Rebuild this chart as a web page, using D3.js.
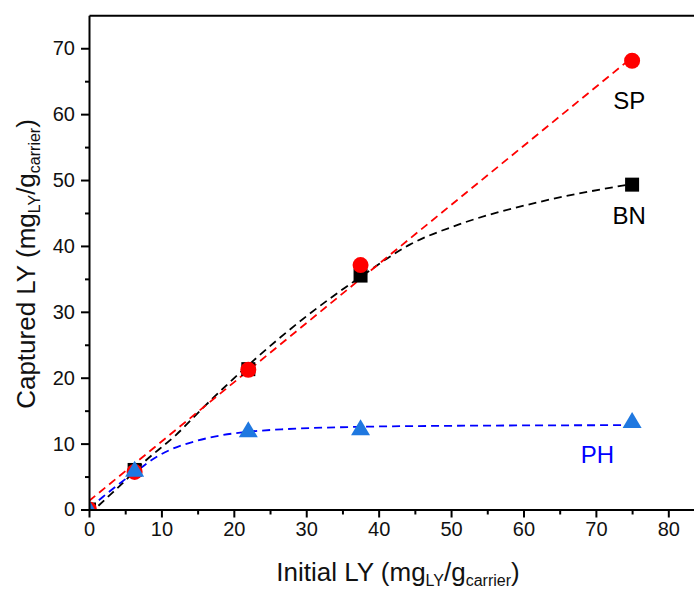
<!DOCTYPE html>
<html>
<head>
<meta charset="utf-8">
<script src="https://cdn.jsdelivr.net/npm/d3@7"></script>
<style>
  html, body { margin: 0; padding: 0; background: #fff; }
  svg { display: block; }
  text { font-family: "Liberation Sans", Arial, Helvetica, sans-serif; }
</style>
</head>
<body>
<div id="chart"></div>
<script>
// ---------- data ----------
const initialLY = [0, 6.3, 22, 37.5, 75];
const spCaptured = [0, 5.7, 21.2, 37.1, 68.1];
const bnCaptured = [0, 6.0, 21.3, 35.5, 49.3];
const phCaptured = [0.2, 6.1, 12.1, 12.4, 13.5];

// fitted (dashed) curves
const spFitX = [0, 37.5, 75];
const spFitY = [1.3, 35.0, 68.6];
const bnFitX = [0, 2.1, 4.65, 7.4, 12, 15.9, 22, 30, 37.5, 44.3, 51.2, 62.3, 75];
const bnFitY = [-0.8, 1.4, 4.0, 7.0, 11.3, 15.6, 21.9, 29.3, 35.3, 40.2, 43.3, 46.7, 49.4];
const phFitX = [0, 1.9, 4.65, 6.3, 9.2, 11.1, 14.8, 18.5, 22, 27.2, 37.5, 50, 75];
const phFitY = [0.1, 1.9, 4.3, 5.6, 7.9, 9.0, 10.4, 11.3, 11.8, 12.2, 12.55, 12.7, 12.8];

const xMajorTicks = [0, 10, 20, 30, 40, 50, 60, 70, 80];
const xMinorTicks = [5, 15, 25, 35, 45, 55, 65, 75];
const yMajorTicks = [0, 10, 20, 30, 40, 50, 60, 70];
const yMinorTicks = [5, 15, 25, 35, 45, 55, 65];

const seriesNames = ["SP", "BN", "PH"];

// ---------- layout ----------
const W = 694, H = 589;
const svg = d3.select("#chart").append("svg").attr("width", W).attr("height", H);

const x = d3.scaleLinear().domain([0, 85]).range([89, 89 + 85 * 7.2413]);
const y = d3.scaleLinear().domain([0, 75]).range([509.5, 15.3]);

const font = '"Liberation Sans", Arial, Helvetica, sans-serif';

// clip for plot area
svg.append("defs").append("clipPath").attr("id", "plotclip")
  .append("rect").attr("x", x(0)).attr("y", y(75))
  .attr("width", W - x(0)).attr("height", y(0) - y(75));

const plot = svg.append("g").attr("clip-path", "url(#plotclip)");

// ---------- fit lines ----------
function fitLine(xs, ys) {
  const pts = xs.map((v, i) => [v, ys[i]]);
  return d3.line().x(d => x(d[0])).y(d => y(d[1])).curve(d3.curveMonotoneX)(pts);
}
const fits = [
  { xs: bnFitX, ys: bnFitY, color: "#000000" },
  { xs: spFitX, ys: spFitY, color: "#ff0000" },
  { xs: phFitX, ys: phFitY, color: "#0000ff" }
];
fits.forEach(f => {
  plot.append("path").attr("d", fitLine(f.xs, f.ys))
    .attr("fill", "none").attr("stroke", f.color)
    .attr("stroke-width", 1.8).attr("stroke-dasharray", "8,5");
});

// ---------- markers ----------
const bnPts = initialLY.map((v, i) => [v, bnCaptured[i]]);
const spPts = initialLY.map((v, i) => [v, spCaptured[i]]);
const phPts = initialLY.map((v, i) => [v, phCaptured[i]]);

plot.selectAll("rect.bn").data(bnPts).enter().append("rect")
  .attr("class", "bn")
  .attr("x", d => x(d[0]) - 7).attr("y", d => y(d[1]) - 7)
  .attr("width", 14).attr("height", 14).attr("fill", "#000");

plot.selectAll("circle.sp").data(spPts).enter().append("circle")
  .attr("class", "sp")
  .attr("cx", d => x(d[0])).attr("cy", d => y(d[1])).attr("r", 8)
  .attr("fill", "#ff0000");

plot.selectAll("path.ph").data(phPts).enter().append("path")
  .attr("class", "ph")
  .attr("d", d => {
    const cx = x(d[0]), cy = y(d[1]);
    return `M${cx},${cy - 8.5}L${cx + 9.5},${cy + 7.5}L${cx - 9.5},${cy + 7.5}Z`;
  })
  .attr("fill", "#1f78e0");

// ---------- axes ----------
const axisG = svg.append("g");

// bottom major
const xAxisMajor = d3.axisBottom(x).tickValues(xMajorTicks).tickSize(8).tickSizeOuter(0).tickPadding(4);
const gx = axisG.append("g").attr("transform", `translate(0,${y(0)})`).call(xAxisMajor);
gx.select(".domain").attr("stroke", "#000").attr("stroke-width", 2);
gx.selectAll(".tick line").attr("stroke", "#000").attr("stroke-width", 2);
gx.selectAll(".tick text").attr("font-size", 20).attr("font-family", font).attr("fill", "#111");

// bottom minor
const xAxisMinor = d3.axisBottom(x).tickValues(xMinorTicks).tickSize(5).tickFormat("");
const gxm = axisG.append("g").attr("transform", `translate(0,${y(0)})`).call(xAxisMinor);
gxm.select(".domain").remove();
gxm.selectAll(".tick line").attr("stroke", "#000").attr("stroke-width", 2);

// left major
const yAxisMajor = d3.axisLeft(y).tickValues(yMajorTicks).tickSize(8).tickSizeOuter(0).tickPadding(6);
const gy = axisG.append("g").attr("transform", `translate(${x(0)},0)`).call(yAxisMajor);
gy.select(".domain").attr("stroke", "#000").attr("stroke-width", 2);
gy.selectAll(".tick line").attr("stroke", "#000").attr("stroke-width", 2);
gy.selectAll(".tick text").attr("font-size", 20).attr("font-family", font).attr("fill", "#111");

// left minor
const yAxisMinor = d3.axisLeft(y).tickValues(yMinorTicks).tickSize(4).tickFormat("");
const gym = axisG.append("g").attr("transform", `translate(${x(0)},0)`).call(yAxisMinor);
gym.select(".domain").remove();
gym.selectAll(".tick line").attr("stroke", "#000").attr("stroke-width", 2);

// top frame line
const xTop = d3.axisTop(x).tickValues([]).tickSizeOuter(0);
const gt = axisG.append("g").attr("transform", `translate(0,${y(75)})`).call(xTop);
gt.select(".domain").attr("stroke", "#000").attr("stroke-width", 2);

// ---------- axis titles ----------
function titleWithSubs(sel) {
  sel.append("tspan").text("LY (mg");
  sel.append("tspan").attr("font-size", 16).attr("dy", 5).text("LY");
  sel.append("tspan").attr("dy", -5).text("/g");
  sel.append("tspan").attr("font-size", 16).attr("dy", 5).text("carrier");
  sel.append("tspan").attr("dy", -5).text(")");
}

const xt = svg.append("text")
  .attr("x", 398).attr("y", 581)
  .attr("text-anchor", "middle").attr("font-size", 26).attr("fill", "#111");
xt.append("tspan").text("Initial ");
titleWithSubs(xt);

const yt = svg.append("text")
  .attr("transform", `translate(35,264) rotate(-90)`)
  .attr("text-anchor", "middle").attr("font-size", 26).attr("fill", "#111");
yt.append("tspan").text("Captured ");
titleWithSubs(yt);

// ---------- series labels ----------
const labelPos = [
  { name: seriesNames[0], xv: 74.6, yv: 60.8, color: "#000" },
  { name: seriesNames[1], xv: 74.6, yv: 43.4, color: "#000" },
  { name: seriesNames[2], xv: 70.2, yv: 7.0, color: "#0000ff" }
];
labelPos.forEach(l => {
  svg.append("text").attr("x", x(l.xv)).attr("y", y(l.yv))
    .attr("text-anchor", "middle").attr("font-size", 24)
    .attr("fill", l.color).text(l.name);
});
</script>
</body>
</html>
